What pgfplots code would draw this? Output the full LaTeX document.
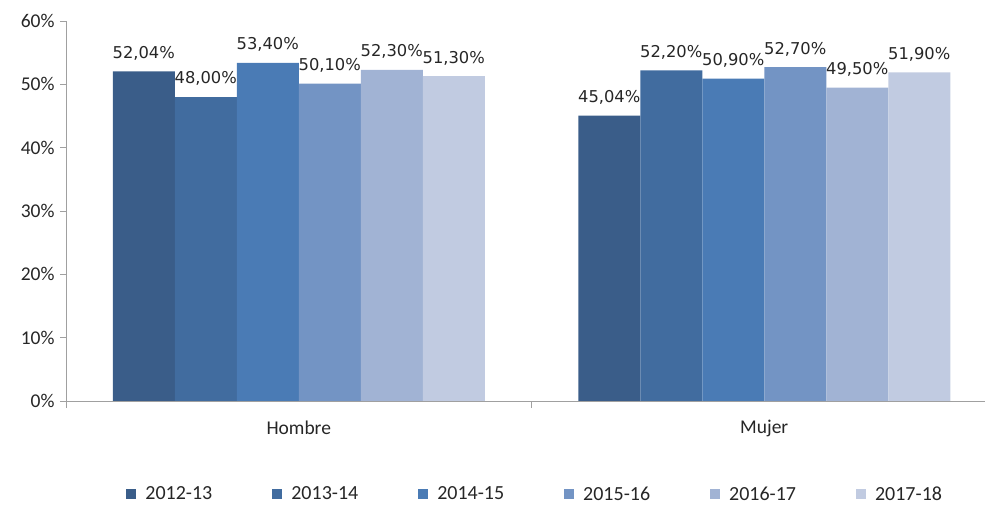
\documentclass[border=0pt]{standalone}
\usepackage{pgfplots}
\pgfplotsset{compat=1.18}
\usepackage{fontspec}
\setmainfont{Carlito}
\newfontfamily\lbl{DejaVu Sans}
\definecolor{c1}{HTML}{3A5D89}
\definecolor{c2}{HTML}{416C9F}
\definecolor{c3}{HTML}{4A7BB5}
\definecolor{c4}{HTML}{7394C4}
\definecolor{c5}{HTML}{A1B3D4}
\definecolor{c6}{HTML}{C1CBE1}
\definecolor{axgray}{HTML}{A0A0A0}
\definecolor{txt}{HTML}{262626}
\begin{document}
\begin{tikzpicture}[x=1bp,y=1bp]
\begin{axis}[
  at={(66bp,104bp)}, anchor=south west,
  scale only axis, width=931bp, height=380bp,
  xmin=-0.5, xmax=1.5, ymin=0, ymax=60,
  ybar=0pt, bar width=62bp,
  axis x line*=bottom, axis y line*=left,
  axis line style={axgray, line width=1bp},
  every axis plot/.append style={draw=none},
  xtick={0,1}, xticklabels={Hombre,Mujer},
  minor xtick={-0.5,0.5,1.5},
  major x tick style={draw=none},
  minor x tick style={axgray, line width=1bp},
  minor tick length=7bp,
  ytick={0,10,20,30,40,50,60},
  yticklabels={0\%,10\%,20\%,30\%,40\%,50\%,60\%},
  major y tick style={axgray, line width=1bp},
  major tick length=6bp,
  tick align=outside,
  ticklabel style={font=\fontsize{19.5bp}{22bp}\selectfont, text=txt},
  xticklabel style={yshift=-10bp},
  yticklabel style={xshift=-2bp},
  point meta=explicit symbolic,
  nodes near coords,
  every node near coord/.append style={font=\lbl\fontsize{16.3bp}{19bp}\selectfont, text=txt, anchor=south, inner sep=0pt, yshift=11bp},
  legend columns=6,
  legend style={at={(axis description cs:0.504,-0.245)}, anchor=center, draw=none, fill=none,
    font=\fontsize{20bp}{22bp}\selectfont, text=txt,
    /tikz/every odd column/.append style={column sep=7bp},
    /tikz/every even column/.append style={column sep=58bp}},
  legend image code/.code={\fill[#1] (0bp,-5bp) rectangle (10bp,5bp);},
]
\addplot[fill=c1] coordinates {(0,52.04) [52,04\%] (1,45.04) [45,04\%]};
\addplot[fill=c2] coordinates {(0,48.00) [48,00\%] (1,52.20) [52,20\%]};
\addplot[fill=c3] coordinates {(0,53.40) [53,40\%] (1,50.90) [50,90\%]};
\addplot[fill=c4] coordinates {(0,50.10) [50,10\%] (1,52.70) [52,70\%]};
\addplot[fill=c5] coordinates {(0,52.30) [52,30\%] (1,49.50) [49,50\%]};
\addplot[fill=c6] coordinates {(0,51.30) [51,30\%] (1,51.90) [51,90\%]};
\legend{2012-13,2013-14,2014-15,2015-16,2016-17,2017-18}
\end{axis}
\pgfresetboundingbox
\path[use as bounding box] (0,0) rectangle (985bp,505bp);
\end{tikzpicture}
\end{document}
